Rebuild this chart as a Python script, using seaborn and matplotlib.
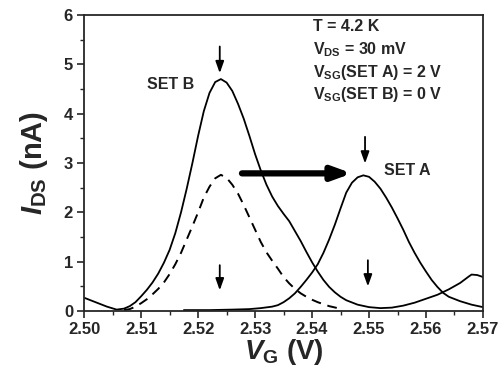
import matplotlib
matplotlib.use("Agg")
import matplotlib.pyplot as plt
import seaborn as sns
import pandas as pd
from matplotlib.ticker import MultipleLocator, FormatStrFormatter

# ---- data ----
setb_v = [2.500, 2.502, 2.504, 2.5057, 2.507, 2.508, 2.509, 2.510, 2.511, 2.512,
          2.513, 2.514, 2.515, 2.516, 2.517, 2.518, 2.519, 2.520, 2.521, 2.522,
          2.523, 2.524, 2.525, 2.526, 2.527, 2.528, 2.529, 2.530, 2.531, 2.532,
          2.533, 2.534, 2.535, 2.536, 2.537, 2.538, 2.539, 2.540, 2.541, 2.542,
          2.543, 2.544, 2.545, 2.546, 2.548, 2.550, 2.552, 2.554, 2.556, 2.558,
          2.560, 2.562, 2.564, 2.566, 2.5675, 2.568, 2.569, 2.570]
setb_i = [0.27, 0.18, 0.09, 0.03, 0.05, 0.10, 0.18, 0.30, 0.43, 0.58,
          0.76, 0.98, 1.24, 1.58, 2.00, 2.48, 3.00, 3.55, 4.05, 4.42,
          4.64, 4.70, 4.63, 4.46, 4.20, 3.90, 3.55, 3.18, 2.85, 2.56,
          2.32, 2.13, 1.97, 1.82, 1.62, 1.42, 1.20, 0.99, 0.80, 0.63,
          0.49, 0.38, 0.29, 0.22, 0.13, 0.08, 0.06, 0.07, 0.11, 0.17,
          0.25, 0.33, 0.44, 0.57, 0.70, 0.74, 0.73, 0.69]

seta_v = [2.5175, 2.522, 2.526, 2.529, 2.531, 2.533, 2.534, 2.535, 2.536, 2.537,
          2.538, 2.539, 2.540, 2.541, 2.542, 2.543, 2.544, 2.545, 2.546, 2.547,
          2.548, 2.549, 2.550, 2.551, 2.552, 2.553, 2.554, 2.555, 2.556, 2.557,
          2.558, 2.559, 2.560, 2.561, 2.562, 2.563, 2.564, 2.566, 2.568, 2.570]
seta_i = [0.02, 0.02, 0.03, 0.04, 0.06, 0.09, 0.12, 0.18, 0.26, 0.36,
          0.49, 0.63, 0.78, 0.95, 1.18, 1.45, 1.75, 2.08, 2.40, 2.60,
          2.71, 2.75, 2.72, 2.62, 2.48, 2.30, 2.10, 1.88, 1.65, 1.40,
          1.18, 0.98, 0.80, 0.63, 0.49, 0.37, 0.29, 0.20, 0.13, 0.08]

dash_v = [2.5070, 2.508, 2.509, 2.510, 2.511, 2.512, 2.513, 2.514, 2.515, 2.516,
          2.517, 2.518, 2.519, 2.520, 2.521, 2.522, 2.523, 2.524, 2.525, 2.526,
          2.527, 2.528, 2.529, 2.530, 2.531, 2.532, 2.533, 2.534, 2.535, 2.536,
          2.537, 2.538, 2.539, 2.540, 2.541, 2.542, 2.543, 2.5445]
dash_i = [0.02, 0.04, 0.09, 0.16, 0.24, 0.34, 0.45, 0.58, 0.75, 0.95,
          1.18, 1.45, 1.72, 2.00, 2.30, 2.52, 2.69, 2.76, 2.70, 2.56,
          2.38, 2.15, 1.90, 1.65, 1.40, 1.19, 1.02, 0.86, 0.69, 0.56,
          0.45, 0.36, 0.29, 0.23, 0.18, 0.14, 0.10, 0.06]

x_ticks = [2.50, 2.51, 2.52, 2.53, 2.54, 2.55, 2.56, 2.57]
y_ticks = [0, 1, 2, 3, 4, 5, 6]

info_lines = ["T = 4.2 K",
              r"$\mathrm{V_{DS}}$ = 30 mV",
              r"$\mathrm{V_{SG}}$(SET A) = 2 V",
              r"$\mathrm{V_{SG}}$(SET B) = 0 V"]

# ---- style ----
sns.set_style("ticks")
plt.rcParams['font.family'] = ['Liberation Sans', 'DejaVu Sans']
plt.rcParams['font.weight'] = 'bold'
plt.rcParams['mathtext.fontset'] = 'custom'
plt.rcParams['mathtext.rm'] = 'Liberation Sans:bold'
plt.rcParams['mathtext.it'] = 'Liberation Sans:italic:bold'
plt.rcParams['mathtext.bf'] = 'Liberation Sans:bold'

fig = plt.figure(figsize=(5.01, 3.73), dpi=100)
ax = fig.add_axes([0.168, 0.166, 0.796, 0.794])

dfb = pd.DataFrame({"V": setb_v, "I": setb_i})
dfa = pd.DataFrame({"V": seta_v, "I": seta_i})
dfd = pd.DataFrame({"V": dash_v, "I": dash_i})

sns.lineplot(data=dfb, x="V", y="I", ax=ax, color="black", lw=1.3, sort=False)
sns.lineplot(data=dfa, x="V", y="I", ax=ax, color="black", lw=1.3, sort=False)
sns.lineplot(data=dfd, x="V", y="I", ax=ax, color="black", lw=1.4, sort=False,
             linestyle=(0, (5, 3.5)))

ax.set_xlim(2.50, 2.57)
ax.set_ylim(0, 6)
ax.set_xticks(x_ticks)
ax.set_yticks(y_ticks)
ax.xaxis.set_major_formatter(FormatStrFormatter('%.2f'))
ax.xaxis.set_minor_locator(MultipleLocator(0.005))
ax.yaxis.set_minor_locator(MultipleLocator(0.5))
ax.tick_params(axis='both', which='major', direction='out', length=5, width=1.2,
               labelsize=12, pad=3)
ax.tick_params(axis='both', which='minor', direction='out', length=3, width=1.0)
for lab in ax.get_xticklabels() + ax.get_yticklabels():
    lab.set_fontweight('bold')
for s in ax.spines.values():
    s.set_linewidth(1.3)
    s.set_visible(True)

ax.set_xlabel(r"$\mathit{V}_{\mathrm{G}}$ (V)", fontsize=20, fontweight='bold', labelpad=0)
ax.set_ylabel(r"$\mathit{I}_{\mathrm{DS}}$ (nA)", fontsize=21, fontweight='bold', labelpad=10)

# text annotations
ax.text(2.5151, 4.6, "SET B", fontsize=11.5, fontweight='bold', ha='center', va='center')
ax.text(2.5567, 2.84, "SET A", fontsize=11.5, fontweight='bold', ha='center', va='center')
ys = [5.76, 5.30, 4.84, 4.38]
for t, yy in zip(info_lines, ys):
    ax.text(2.5401, yy, t, fontsize=11.5, fontweight='bold', ha='left', va='center')

# big horizontal arrow
ax.annotate("", xy=(2.5470, 2.79), xytext=(2.5277, 2.79),
            arrowprops=dict(arrowstyle='-|>,head_length=1.1,head_width=0.4', lw=4.5,
                            color='black', shrinkA=0, shrinkB=0))

# small down arrows
for (xv, y0, y1) in [(2.5238, 5.36, 4.82), (2.5493, 3.53, 2.99),
                     (2.5238, 0.93, 0.42), (2.5498, 1.03, 0.50)]:
    ax.annotate("", xy=(xv, y1), xytext=(xv, y0),
                arrowprops=dict(arrowstyle='-|>,head_length=0.7,head_width=0.25', lw=1.3,
                                color='black', shrinkA=0, shrinkB=0))

fig.savefig("out.png", dpi=100)
